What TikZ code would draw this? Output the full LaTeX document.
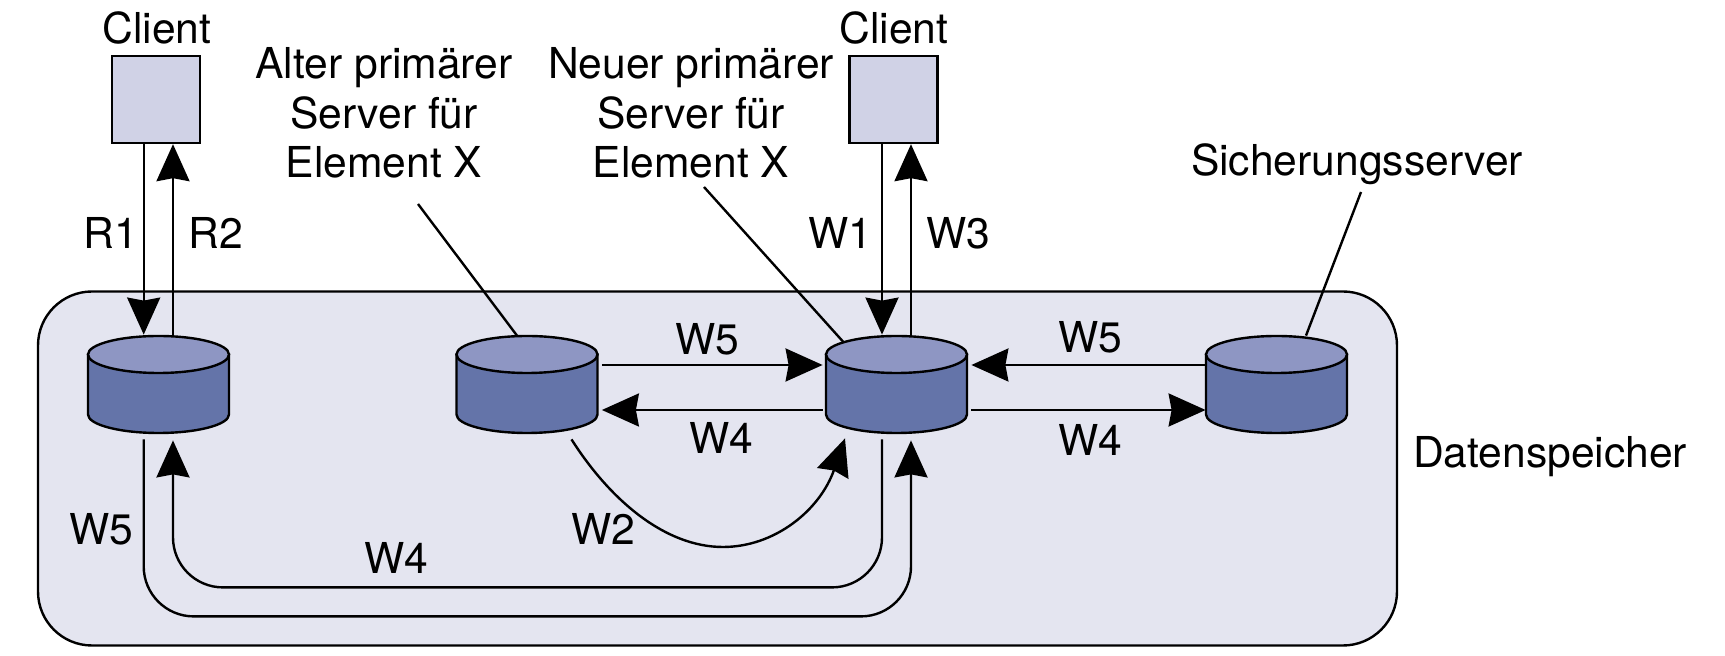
\documentclass[tikz,border=0pt]{standalone}
\usepackage{fontspec}
\setmainfont{TeX Gyre Heros}
\usetikzlibrary{arrows.meta,calc}
\definecolor{frameC}{HTML}{E4E5F0}
\definecolor{sideC}{HTML}{6474A9}
\definecolor{topC}{HTML}{8E96C3}
\definecolor{clientC}{HTML}{D0D2E6}
\tikzset{
  lbl/.style={inner sep=0pt,font=\fontsize{21.3}{24.75}\selectfont,align=center},
  ln/.style={line width=1.2pt,black},
  arr/.style={ln,-{Stealth[length=18.5pt,width=16.5pt,inset=1.5pt]}},
  clientbox/.style={draw=black,line width=1.2pt,fill=clientC,minimum width=44pt,minimum height=43.5pt,inner sep=0pt},
  cylbase/.style={inner sep=0pt,minimum width=70.5pt,minimum height=48.5pt}
}
\newcommand{\dbcyl}[2]{%
  \node[cylbase] (#1) at (#2,384.5) {};
  \draw[line width=1.2pt,fill=sideC] (#2-70.5,354.5) -- (#2-70.5,414.5) arc[x radius=70.5,y radius=18.5,start angle=180,end angle=0] -- (#2+70.5,354.5) -- cycle;
  \draw[line width=1.2pt,fill=topC] (#2,354.5) ellipse[x radius=70.5,y radius=18.5];
}
\begin{document}
\begin{tikzpicture}[x=0.5pt,y=-0.5pt]
\useasboundingbox (0,0) rectangle (1725,656);
\node[draw=black,line width=1.2pt,fill=frameC,rounded corners=27pt,inner sep=0pt,minimum width=679.5pt,minimum height=177pt] (store) at (717.5,468.5) {};
\dbcyl{c1}{158.5}
\dbcyl{c2}{527}
\dbcyl{c3}{896.5}
\dbcyl{c4}{1276.5}
\node[clientbox] (cl1) at (156,99.5) {};
\node[clientbox] (cl2) at (893.5,99.5) {};
\node[lbl] (t1) at (157,28) {Client};
\node[lbl] (t2) at (894,28) {Client};
\node[lbl] (old) at (384,113) {Alter primärer\\Server für\\Element X};
\node[lbl] (new) at (691,113) {Neuer primärer\\Server für\\Element X};
\node[lbl] (sich) at (1357,164) {Sicherungsserver};
\node[lbl] (ds) at (1550,457) {Datenspeicher};
\node[lbl] at (111,233) {R1};
\node[lbl] at (216,233) {R2};
\node[lbl] at (840,233) {W1};
\node[lbl] at (958,233) {W3};
\node[lbl] at (707,339) {W5};
\node[lbl] at (721,438) {W4};
\node[lbl] at (1090,337) {W5};
\node[lbl] at (1090,440) {W4};
\node[lbl] at (603,529) {W2};
\node[lbl] at (396,558) {W4};
\node[lbl] at (101,529) {W5};
% leaders
\draw[ln] ($(old.center)+(34,91)$) -- ($(c2.north)+(-10,0)$);
\draw[ln] ($(new.center)+(13,74)$) -- ($(c3.north)+(-53.5,6)$);
\draw[ln] ($(sich.center)+(4,28)$) -- ($(c4.north)+(29.5,0)$);
% vertical client connectors
\draw[arr] ($(cl1.south)+(-12.3,0)$) -- ($(c1.north)+(-14.8,-1)$);
\draw[arr] ($(c1.north)+(14.5,0)$) -- ($(cl1.south)+(17,0)$);
\draw[arr] ($(cl2.south)+(-11.5,0)$) -- ($(c3.north)+(-14.5,-1)$);
\draw[arr] ($(c3.north)+(14.5,0)$) -- ($(cl2.south)+(17.5,0)$);
% horizontal
\draw[arr] ($(c2.east)+(4,-19.5)$) -- ($(c3.west)+(-3,-19.5)$);
\draw[arr] ($(c3.west)+(-3,25.5)$) -- ($(c2.east)+(4,25.5)$);
\draw[arr] ($(c4.west)+(0,-19.5)$) -- ($(c3.east)+(4,-19.5)$);
\draw[arr] ($(c3.east)+(4,25.5)$) -- ($(c4.west)+(0,25.5)$);
% bottom loops
\draw[arr,rounded corners=25pt] ($(c3.south)+(-14.5,6)$) -- ($(c3.south)+(-14.5,154)$) -- ($(c1.south)+(14.5,154)$) -- ($(c1.south)+(14.5,7)$);
\draw[arr,rounded corners=25pt] ($(c1.south)+(-14.8,6)$) -- ($(c1.south)+(-14.8,183)$) -- ($(c3.south)+(14.5,183)$) -- ($(c3.south)+(14.5,7)$);
% W2
\draw[arr] ($(c2.south)+(44.5,6)$) .. controls (610,500) and (665,547) .. (723,547) .. controls (775,547) and (820,510) .. ($(c3.south)+(-51.5,5)$);
\end{tikzpicture}
\end{document}
